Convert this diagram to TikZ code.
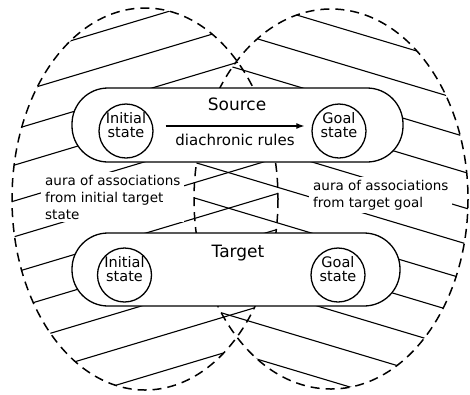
\documentclass[tikz,border=0pt]{standalone}
\usepackage{fontspec}
\setmainfont{DejaVu Sans}
\usetikzlibrary{arrows.meta}
\tikzset{
  domainline/.style={draw=black, line width=1.5pt, dash pattern=on 9pt off 6pt},
  hatch/.style={draw=black, line width=1.1pt, line cap=round},
  capsule/.style={draw=black, fill=white, line width=1.3pt, rounded corners=36pt, inner sep=0pt},
  statering/.style={draw=black, fill=white, circle, line width=1.3pt, minimum size=54pt, inner sep=0pt},
  statetext/.style={font=\fontsize{14.5}{14.5}\selectfont, align=center, inner sep=0pt},
  title/.style={font=\fontsize{17}{20}\selectfont, inner sep=0pt},
  rulelabel/.style={font=\fontsize{15}{18}\selectfont, inner sep=0pt},
  aura/.style={fill=white, align=left, font=\fontsize{13.5}{17}\selectfont, inner xsep=4pt, inner ysep=3pt},
  rulearrow/.style={line width=1.2pt, -{Latex[length=8pt,width=6pt]}},
}
\begin{document}
\begin{tikzpicture}[x=1pt, y=-1pt]
\useasboundingbox (0,0) rectangle (470,394);
% hatching of the source-side domain
\begin{scope}
\clip (145,199) ellipse [x radius=133, y radius=191];
\draw[hatch] (0,62.0) -- (300,-28.0);
\draw[hatch] (0,97.8) -- (300,7.8);
\draw[hatch] (0,133.6) -- (300,43.6);
\draw[hatch] (0,169.4) -- (300,79.4);
\draw[hatch] (0,205.2) -- (300,115.2);
\draw[hatch] (0,241.0) -- (300,151.0);
\draw[hatch] (0,276.8) -- (300,186.8);
\draw[hatch] (0,312.6) -- (300,222.6);
\draw[hatch] (0,348.4) -- (300,258.4);
\draw[hatch] (0,384.2) -- (300,294.2);
\draw[hatch] (0,420.0) -- (300,330.0);
\end{scope}
% hatching of the goal-side domain
\begin{scope}
\clip (331,199) ellipse [x radius=137, y radius=190];
\draw[hatch] (170,-23.0) -- (470,67.0);
\draw[hatch] (170,12.6) -- (470,102.6);
\draw[hatch] (170,48.2) -- (470,138.2);
\draw[hatch] (170,83.8) -- (470,173.8);
\draw[hatch] (170,119.4) -- (470,209.4);
\draw[hatch] (170,155.0) -- (470,245.0);
\draw[hatch] (170,190.6) -- (470,280.6);
\draw[hatch] (170,226.2) -- (470,316.2);
\draw[hatch] (170,261.8) -- (470,351.8);
\draw[hatch] (170,297.4) -- (470,387.4);
\draw[hatch] (170,333.0) -- (470,423.0);
\end{scope}
\draw[domainline] (145,199) ellipse [x radius=133, y radius=191];
\draw[domainline] (331,199) ellipse [x radius=137, y radius=190];

% source and target
\node[capsule, minimum width=331pt, minimum height=74pt] (source) at (237.5,125) {};
\node[capsule, minimum width=328pt, minimum height=73pt] (target) at (236,269.5) {};
\node[title, anchor=base] (sourcetitle) at (237,110) {Source};
\node[title, anchor=base] (targettitle) at (238,257) {Target};

\node[statering] (srcinit) at (126,131) {};
\node[statering] (srcgoal) at (339,131) {};
\node[statering] (tgtinit) at (124.5,275) {};
\node[statering] (tgtgoal) at (338,275) {};
\node[statetext] (srcinittext) at ([yshift=6pt]srcinit.center) {Initial\\state};
\node[statetext] (srcgoaltext) at ([yshift=6pt]srcgoal.center) {Goal\\state};
\node[statetext] (tgtinittext) at ([yshift=6pt]tgtinit.center) {Initial\\state};
\node[statetext] (tgtgoaltext) at ([yshift=6pt]tgtgoal.center) {Goal\\state};

\draw[rulearrow, shorten <=12pt, shorten >=7pt] ([yshift=5pt]srcinit.east) -- ([yshift=5pt]srcgoal.west);
\node[rulelabel, anchor=base] (rules) at (235,145) {diachronic rules};

% auras
\node[aura, anchor=west] (auraleft) at (41,197) {aura of associations\\from initial target\\state};
\node[aura, anchor=west] (auraright) at (309,195) {aura of associations\\from target goal};
\end{tikzpicture}
\end{document}
